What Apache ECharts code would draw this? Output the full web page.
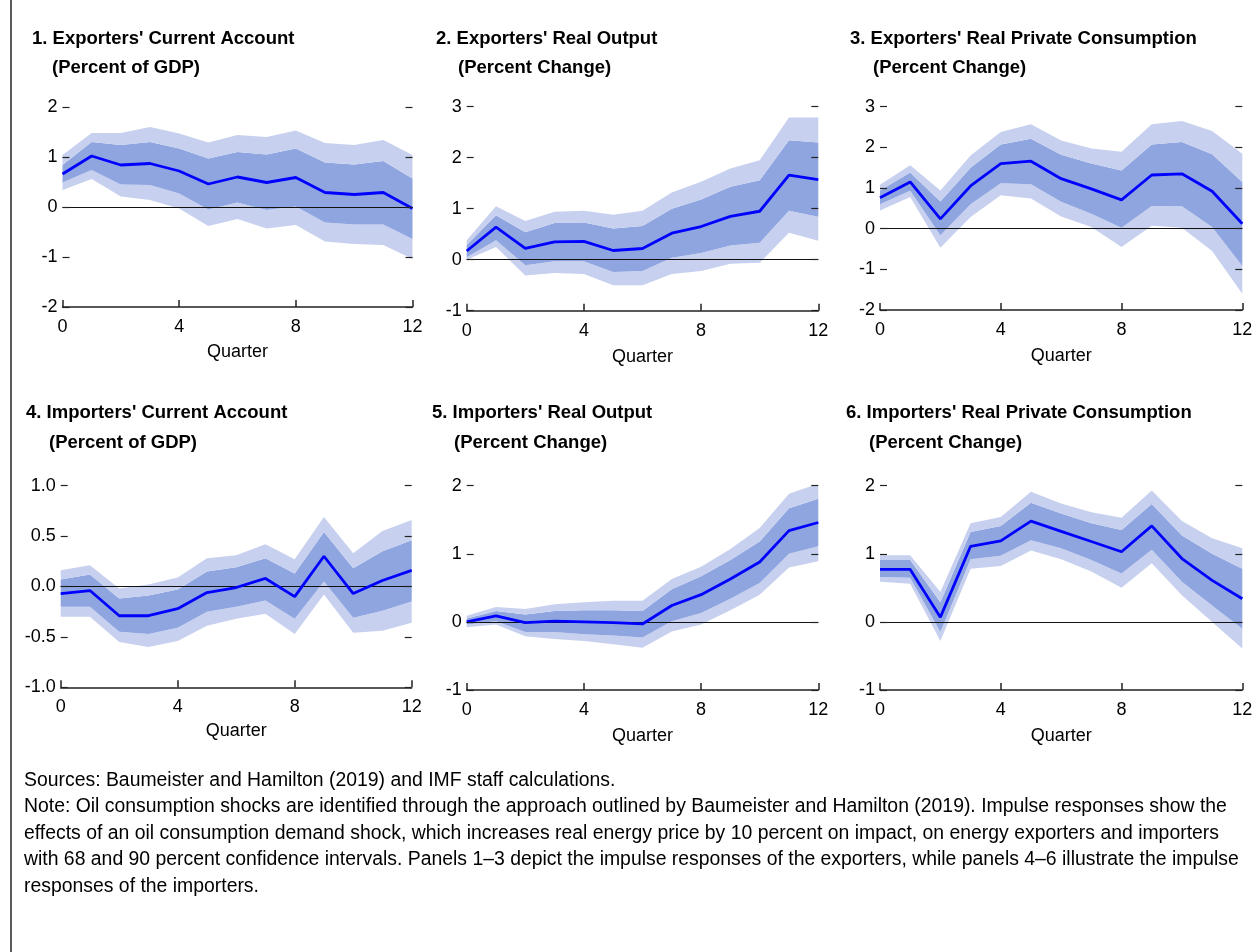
<!DOCTYPE html>
<html>
<head>
<meta charset="utf-8">
<script src="https://cdn.jsdelivr.net/npm/echarts@6/dist/echarts.min.js"></script>
<style>
  html, body { margin: 0; padding: 0; background: #fff; }
  #chart { width: 1257px; height: 952px; }
</style>
</head>
<body>
<div id="chart"></div>
<script>
// quarters on the x axis
const quarters = ['0','1','2','3','4','5','6','7','8','9','10','11','12'];

// 1. Exporters' current account
const p1Mid  = [0.66,1.02,0.84,0.87,0.72,0.46,0.60,0.49,0.59,0.29,0.25,0.29,-0.03];
const p1Hi68 = [0.84,1.30,1.24,1.30,1.17,0.97,1.10,1.05,1.17,0.89,0.85,0.92,0.57];
const p1Lo68 = [0.49,0.74,0.45,0.44,0.27,-0.05,0.09,-0.06,0.01,-0.31,-0.35,-0.35,-0.64];
const p1Hi90 = [1.04,1.48,1.48,1.60,1.47,1.29,1.44,1.40,1.53,1.28,1.24,1.34,1.04];
const p1Lo90 = [0.34,0.56,0.21,0.14,-0.03,-0.38,-0.24,-0.43,-0.36,-0.69,-0.74,-0.76,-1.04];

// 2. Exporters' real output
const p2Mid  = [0.17,0.64,0.22,0.35,0.36,0.18,0.22,0.52,0.65,0.85,0.95,1.66,1.57];
const p2Hi68 = [0.29,0.87,0.54,0.72,0.73,0.61,0.66,1.00,1.18,1.43,1.56,2.34,2.30];
const p2Lo68 = [0.05,0.38,-0.11,-0.03,-0.03,-0.24,-0.22,0.04,0.13,0.28,0.33,0.96,0.84];
const p2Hi90 = [0.38,1.05,0.76,0.94,0.96,0.88,0.96,1.32,1.53,1.79,1.95,2.79,2.79];
const p2Lo90 = [0.00,0.25,-0.31,-0.26,-0.28,-0.50,-0.50,-0.28,-0.22,-0.08,-0.06,0.53,0.37];

// 3. Exporters' real private consumption
const p3Mid  = [0.76,1.15,0.24,1.05,1.60,1.66,1.23,0.98,0.71,1.32,1.35,0.92,0.12];
const p3Hi68 = [0.94,1.38,0.67,1.50,2.07,2.21,1.82,1.60,1.43,2.07,2.13,1.83,1.15];
const p3Lo68 = [0.60,0.93,-0.16,0.60,1.12,1.09,0.66,0.37,0.02,0.56,0.55,0.04,-0.92];
const p3Hi90 = [1.08,1.56,0.94,1.80,2.38,2.57,2.17,1.97,1.89,2.57,2.65,2.40,1.84];
const p3Lo90 = [0.45,0.78,-0.47,0.29,0.82,0.74,0.30,0.04,-0.45,0.07,0.02,-0.55,-1.60];

// 4. Importers' current account
const p4Mid  = [-0.07,-0.04,-0.29,-0.29,-0.22,-0.06,-0.01,0.08,-0.10,0.30,-0.07,0.06,0.16];
const p4Hi68 = [0.07,0.12,-0.12,-0.09,-0.03,0.15,0.19,0.28,0.13,0.54,0.18,0.35,0.46];
const p4Lo68 = [-0.20,-0.20,-0.45,-0.47,-0.41,-0.25,-0.20,-0.14,-0.32,0.05,-0.31,-0.24,-0.15];
const p4Hi90 = [0.16,0.21,-0.02,0.02,0.09,0.28,0.31,0.42,0.27,0.69,0.33,0.55,0.66];
const p4Lo90 = [-0.30,-0.30,-0.55,-0.60,-0.54,-0.39,-0.32,-0.27,-0.47,-0.08,-0.46,-0.44,-0.36];

// 5. Importers' real output
const p5Mid  = [0.00,0.09,-0.01,0.01,0.00,-0.01,-0.03,0.24,0.40,0.63,0.88,1.34,1.46];
const p5Hi68 = [0.05,0.16,0.11,0.16,0.17,0.17,0.16,0.48,0.67,0.91,1.18,1.67,1.81];
const p5Lo68 = [-0.04,0.01,-0.15,-0.15,-0.18,-0.20,-0.23,0.01,0.13,0.34,0.57,1.00,1.11];
const p5Hi90 = [0.09,0.22,0.19,0.26,0.29,0.31,0.31,0.63,0.81,1.07,1.38,1.88,2.03];
const p5Lo90 = [-0.08,-0.04,-0.21,-0.25,-0.28,-0.33,-0.38,-0.14,-0.04,0.17,0.40,0.80,0.89];

// 6. Importers' real private consumption
const p6Mid  = [0.77,0.77,0.07,1.11,1.19,1.48,1.33,1.18,1.03,1.41,0.93,0.61,0.34];
const p6Hi68 = [0.91,0.91,0.29,1.32,1.41,1.75,1.59,1.45,1.35,1.73,1.27,1.00,0.78];
const p6Lo68 = [0.66,0.65,-0.15,0.92,0.97,1.20,1.08,0.91,0.71,1.06,0.59,0.24,-0.10];
const p6Hi90 = [0.98,0.98,0.44,1.45,1.54,1.91,1.74,1.61,1.53,1.93,1.48,1.23,1.08];
const p6Lo90 = [0.59,0.56,-0.28,0.78,0.82,1.05,0.92,0.74,0.50,0.86,0.39,0.00,-0.39];

// y ranges: [min, max, interval]
const p1Range = [-2, 2, 1];
const p2Range = [-1, 3, 1];
const p3Range = [-2, 3, 1];
const p4Range = [-1, 1, 0.5];
const p5Range = [-1, 2, 1];
const p6Range = [-1, 2, 1];

const titles = [
  "1. Exporters' Current Account", "2. Exporters' Real Output", "3. Exporters' Real Private Consumption",
  "4. Importers' Current Account", "5. Importers' Real Output", "6. Importers' Real Private Consumption"
];
const units = ['(Percent of GDP)', '(Percent Change)', '(Percent Change)',
               '(Percent of GDP)', '(Percent Change)', '(Percent Change)'];

const noteLines = [
  'Sources: Baumeister and Hamilton (2019) and IMF staff calculations.',
  'Note: Oil consumption shocks are identified through the approach outlined by Baumeister and Hamilton (2019). Impulse responses show the',
  'effects of an oil consumption demand shock, which increases real energy price by 10 percent on impact, on energy exporters and importers',
  'with 68 and 90 percent confidence intervals. Panels 1\u20133 depict the impulse responses of the exporters, while panels 4\u20136 illustrate the impulse',
  'responses of the importers.'
];

const FONT = '"Liberation Sans", Arial, sans-serif';
const LIGHT = '#c7d0ee';
const DARK = '#8fa5e0';
const LINE = '#0000ff';
const INK = '#222';

const panels = [
  { mid: p1Mid, hi68: p1Hi68, lo68: p1Lo68, hi90: p1Hi90, lo90: p1Lo90, range: p1Range,
    box: [62.5, 107, 350, 200], t: [32, 29, 52, 58], gap: 36, dec: 0 },
  { mid: p2Mid, hi68: p2Hi68, lo68: p2Lo68, hi90: p2Hi90, lo90: p2Lo90, range: p2Range,
    box: [466.7, 106.7, 351.6, 204], t: [436, 29, 458, 58], gap: 37, dec: 0 },
  { mid: p3Mid, hi68: p3Hi68, lo68: p3Lo68, hi90: p3Hi90, lo90: p3Lo90, range: p3Range,
    box: [880, 106.7, 362.3, 203.3], t: [850, 29, 873, 58], gap: 37, dec: 0 },
  { mid: p4Mid, hi68: p4Hi68, lo68: p4Lo68, hi90: p4Hi90, lo90: p4Lo90, range: p4Range,
    box: [60.7, 485.7, 351, 201.6], t: [26, 403.5, 49, 433], gap: 35, dec: 1 },
  { mid: p5Mid, hi68: p5Hi68, lo68: p5Lo68, hi90: p5Hi90, lo90: p5Lo90, range: p5Range,
    box: [466.7, 485.7, 351.6, 204.3], t: [432, 403.5, 454, 433], gap: 37, dec: 0 },
  { mid: p6Mid, hi68: p6Hi68, lo68: p6Lo68, hi90: p6Hi90, lo90: p6Lo90, range: p6Range,
    box: [880, 485.7, 362.3, 204.3], t: [846, 403.5, 869, 433], gap: 37, dec: 0 }
];

const diff = (a, b) => a.map((v, i) => +(v - b[i]).toFixed(4));

const grid = [], xAxis = [], yAxis = [], series = [], graphic = [];

// left frame line
graphic.push({
  type: 'line', shape: { x1: 11, y1: 0, x2: 11, y2: 952 },
  style: { stroke: INK, lineWidth: 1.5 }, silent: true
});

panels.forEach((p, i) => {
  const [l, t, w, h] = p.box;
  grid.push({ left: l, top: t, width: w, height: h });

  xAxis.push({
    gridIndex: i, type: 'category', data: quarters, boundaryGap: false, z: 10,
    axisLine: { onZero: false, lineStyle: { color: INK, width: 1.5 } },
    axisTick: { inside: true, length: 7, interval: 3, lineStyle: { color: INK, width: 1.5 } },
    axisLabel: { interval: 3, margin: 11, color: '#000', fontSize: 18, fontFamily: FONT },
    name: 'Quarter', nameLocation: 'middle', nameGap: p.gap,
    nameTextStyle: { color: '#000', fontSize: 18, fontFamily: FONT },
    splitLine: { show: false }
  });

  const [mn, mx, step] = p.range;
  const yCommon = {
    gridIndex: i, type: 'value', min: mn, max: mx, interval: step, z: 10,
    axisLine: { show: false },
    axisTick: { show: true, inside: true, length: 7, lineStyle: { color: INK, width: 1.2 } },
    splitLine: { show: false }
  };
  yAxis.push(Object.assign({}, yCommon, {
    position: 'left',
    axisLabel: { margin: 5, color: '#000', fontSize: 18, fontFamily: FONT,
                 formatter: v => v.toFixed(p.dec) }
  }));
  yAxis.push(Object.assign({}, yCommon, {
    position: 'right', axisLabel: { show: false }
  }));

  const stack = 'band' + i;
  const band = (name, data, color) => ({
    name, type: 'line', xAxisIndex: i, yAxisIndex: 2 * i, data,
    stack, stackStrategy: 'all', symbol: 'none', silent: true,
    lineStyle: { width: 0, opacity: 0 },
    areaStyle: color ? { color, opacity: 1 } : undefined,
    z: 1
  });
  series.push(band('base', p.lo90, null));
  series.push(band('90% low', diff(p.lo68, p.lo90), LIGHT));
  series.push(band('68%', diff(p.hi68, p.lo68), DARK));
  series.push(band('90% high', diff(p.hi90, p.hi68), LIGHT));

  series.push({
    name: 'Response', type: 'line', xAxisIndex: i, yAxisIndex: 2 * i, data: p.mid,
    symbol: 'none', lineStyle: { color: LINE, width: 2.8 }, z: 5,
    markLine: {
      silent: true, symbol: 'none', label: { show: false },
      lineStyle: { color: '#111', width: 1, type: 'solid' },
      data: [{ yAxis: 0 }], z: 4
    }
  });

  graphic.push({
    type: 'text', x: p.t[0], y: p.t[1], silent: true,
    style: { text: titles[i], fill: '#000', font: 'bold 18.5px ' + FONT, verticalAlign: 'top' }
  });
  graphic.push({
    type: 'text', x: p.t[2], y: p.t[3], silent: true,
    style: { text: units[i], fill: '#000', font: 'bold 18.5px ' + FONT, verticalAlign: 'top' }
  });
});

graphic.push({
  type: 'text', x: 24, y: 767, silent: true,
  style: { text: noteLines.join('\n'), fill: '#000', font: '19.4px ' + FONT,
           lineHeight: 26.5, verticalAlign: 'top' }
});

const chart = echarts.init(document.getElementById('chart'));
chart.setOption({
  animation: false,
  backgroundColor: '#fff',
  grid, xAxis, yAxis, series, graphic
});
</script>
</body>
</html>
